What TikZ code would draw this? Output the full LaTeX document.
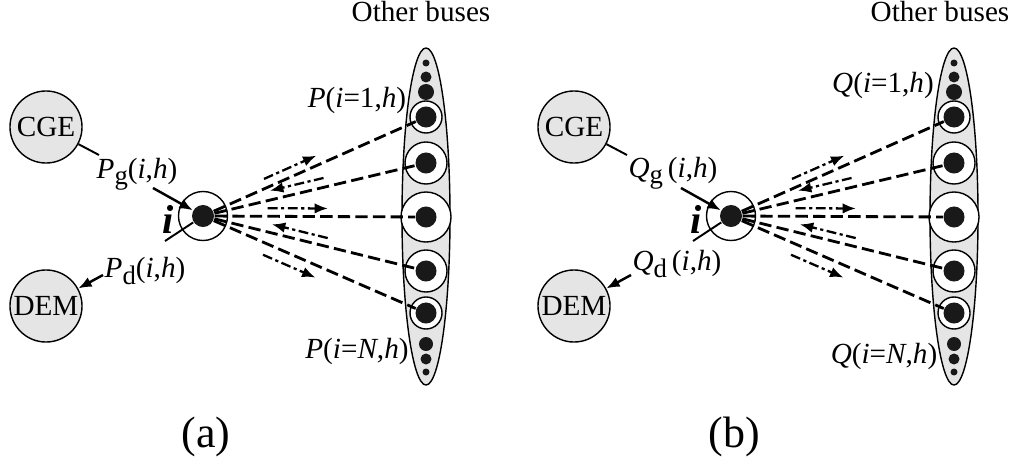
\documentclass[tikz,border=0pt]{standalone}
\usepackage{fontspec}
\setmainfont{Liberation Serif}
\usetikzlibrary{arrows.meta,calc,positioning}

\tikzset{
  agent/.style={circle,draw,line width=0.4pt,fill=black!10,minimum size=0.72cm,inner sep=0pt},
  busring/.style={circle,draw,line width=0.4pt,fill=white,inner sep=0pt},
  busdot/.style={circle,fill=black!90,inner sep=0pt,minimum size=0.21cm},
  link/.style={line width=0.8pt,dash pattern=on 3.5pt off 1.5pt},
  flow/.style={line width=0.65pt,dash pattern=on 2.8pt off 1pt on 0.9pt off 1pt,-{Latex[length=3.8pt,width=3pt]}},
  wire/.style={line width=0.55pt},
  feed/.style={line width=0.7pt,-{Latex[length=3.8pt,width=3pt]}},
  lbl/.style={inner sep=0.5pt}
}
\newcommand{\lowsub}[1]{\raisebox{-0.45ex}{\fontsize{7.6}{8}\selectfont #1}}

\begin{document}
\begin{tikzpicture}[x=0.01cm,y=-0.01cm,font=\fontsize{8.3}{9.5}\selectfont]
\useasboundingbox (0,0) rectangle (1010,464);
\foreach \pn/\sh in {a/0,b/528}{
\begin{scope}[shift={(\sh,0)},name prefix=\pn-]
% producer and consumer
\node[agent] (cge) at (46,127) {CGE};
\node[agent] (dem) at (46,306) {DEM};
% bus i
\node[busring,minimum size=0.49cm] (iring) at (203,216) {};
\node[busdot,minimum size=0.22cm] (i) at (203,216) {};
\node[font=\fontsize{11.5}{12}\selectfont\bfseries\itshape] (iname) at (168,219) {i};
% other buses
\draw[fill=black!10,line width=0.4pt] (426,216.5) ellipse [x radius=24,y radius=168.5];
\foreach \k/\y/\r in {1/117/16,2/163/21,3/217/25,4/271/21,5/313/16}{
  \node[busring,minimum size={0.02cm*\r}] (r\k) at (426,\y) {};
  \node[busdot] (b\k) at (426,\y) {};
}
\foreach \y/\d in {63/7,77/11,92/16,344/14,359/11,372/7}
  \node[busdot,minimum size={0.01cm*\d}] (s\y) at (426,\y) {};
% exchanges
\foreach \k in {1,...,5}
  \draw[link] (i) -- (b\k);
\draw[flow] ($(i)!0.29!(b1)!2.6pt!90:(b1)$) -- ($(i)!0.525!(b1)!2.6pt!90:(b1)$);
\draw[flow] ($(i)!0.55!(b2)!2.6pt!90:(b2)$) -- ($(i)!0.31!(b2)!2.6pt!90:(b2)$);
\draw[flow] ($(i)!0.29!(b3)!2.3pt!90:(b3)$) -- ($(i)!0.56!(b3)!2.3pt!90:(b3)$);
\draw[flow] ($(i)!0.55!(b4)!2.4pt!90:(b4)$) -- ($(i)!0.30!(b4)!2.4pt!90:(b4)$);
\draw[flow] ($(i)!0.29!(b5)!3.3pt!-90:(b5)$) -- ($(i)!0.525!(b5)!3.3pt!-90:(b5)$);
% generation and demand
\coordinate (ge) at (99,155);
\coordinate (gs) at (153,188);
\coordinate (ds) at (165,241);
\coordinate (de) at (103,275);
\draw[wire] (cge) -- (ge);
\draw[feed] (gs) -- (i);
\draw[wire] (i) -- (ds);
\draw[feed] (de) -- (dem);
\node[font=\fontsize{12.5}{14}\selectfont] (cap) at (206,437) {(\pn)};
\end{scope}
}
% labels (a)
\node[lbl] (a-pg) at (137,174) {\textit{P}\lowsub{g}(\textit{i},\textit{h})};
\node[lbl] (a-pd) at (145,271) {\textit{P}\lowsub{d}(\textit{i},\textit{h})};
\node[lbl] (a-p1) at (357,100) {\textit{P}(\textit{i}=1,\textit{h})};
\node[lbl] (a-pn) at (357,351) {\textit{P}(\textit{i}=\textit{N},\textit{h})};
\node[lbl] (a-ob) at (421,12) {Other buses};
% labels (b)
\node[lbl] (b-qg) at (673,173) {\textit{Q}\lowsub{g}\,(\textit{i},\textit{h})};
\node[lbl] (b-qd) at (677,264) {\textit{Q}\lowsub{d}\,(\textit{i},\textit{h})};
\node[lbl] (b-q1) at (883,85) {\textit{Q}(\textit{i}=1,\textit{h})};
\node[lbl] (b-qn) at (884,356) {\textit{Q}(\textit{i}=\textit{N},\textit{h})};
\node[lbl] (b-ob) at (940,12) {Other buses};
\end{tikzpicture}
\end{document}
